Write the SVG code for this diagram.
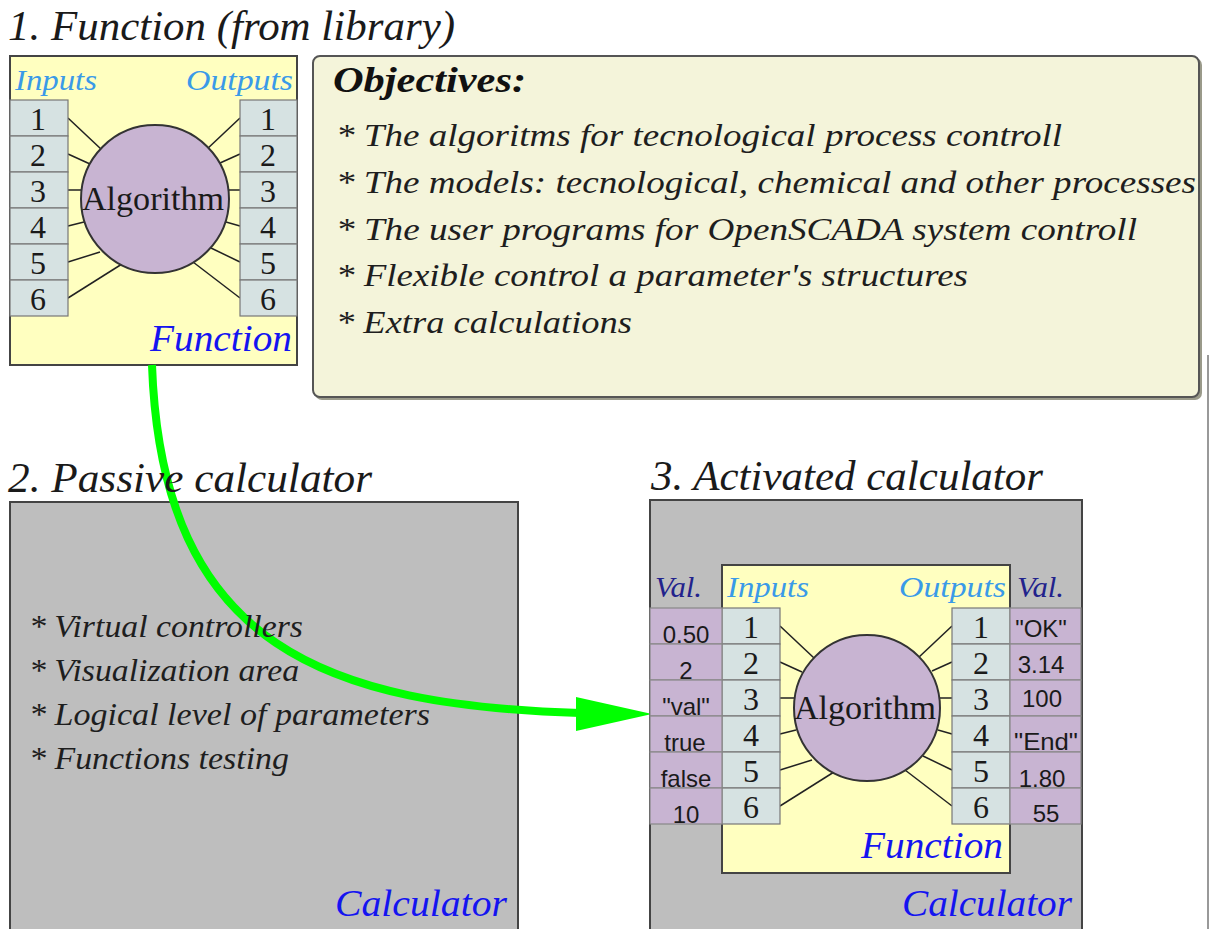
<svg xmlns="http://www.w3.org/2000/svg" width="1210" height="929" viewBox="0 0 1210 929">
<style>
.title{font-family:"Liberation Serif","Times New Roman",serif;font-style:italic;font-size:42px;fill:#1a1a1a}
.fbox{fill:#ffffc0;stroke:#444;stroke-width:2}
.pin{fill:#d6e2e2;stroke:#777;stroke-width:1.2}
.val{fill:#c8b4d2;stroke:#888;stroke-width:1.2}
.alg{fill:#c8b4d2;stroke:#333;stroke-width:2}
.wire{stroke:#222;stroke-width:1.5;fill:none}
.num{font-family:"Liberation Serif","Times New Roman",serif;font-size:32px;fill:#1a1a1a;text-anchor:middle}
.io{font-family:"Liberation Serif","Times New Roman",serif;font-style:italic;font-size:29px;fill:#3a9ae8}
.algt{font-family:"Liberation Serif","Times New Roman",serif;font-size:33px;fill:#1a1a1a;text-anchor:middle}
.blue{font-family:"Liberation Serif","Times New Roman",serif;font-style:italic;font-size:37px;fill:#1414f0;text-anchor:end}
.calc{fill:#bebebe;stroke:#444;stroke-width:2}
.item{font-family:"Liberation Serif","Times New Roman",serif;font-style:italic;font-size:32px;fill:#1e1e1e}
.vt{font-family:"Liberation Sans",Arial,sans-serif;font-size:24px;fill:#1a1a1a;text-anchor:middle}
.vl{font-family:"Liberation Serif","Times New Roman",serif;font-style:italic;font-size:30px;fill:#22228c}
.arrow{fill:none;stroke:#00ff00;stroke-width:8}
</style>

<g id="titles">
<text class="title" x="8" y="40" textLength="447" lengthAdjust="spacingAndGlyphs">1. Function (from library)</text>
<text class="title" x="651" y="490" textLength="392" lengthAdjust="spacingAndGlyphs">3. Activated calculator</text>
</g>

<g id="function-library">
<rect class="fbox" x="10" y="56" width="287" height="309"/>
<line class="wire" x1="68" y1="118" x2="102" y2="150"/>
<line class="wire" x1="68" y1="154" x2="90" y2="164"/>
<line class="wire" x1="68" y1="190" x2="84" y2="190"/>
<line class="wire" x1="68" y1="226" x2="84" y2="222"/>
<line class="wire" x1="68" y1="262" x2="100" y2="252"/>
<line class="wire" x1="68" y1="298" x2="122" y2="264"/>
<line class="wire" x1="240" y1="118" x2="206" y2="150"/>
<line class="wire" x1="240" y1="154" x2="220" y2="163"/>
<line class="wire" x1="240" y1="190" x2="226" y2="190"/>
<line class="wire" x1="240" y1="226" x2="226" y2="222"/>
<line class="wire" x1="240" y1="262" x2="211" y2="248"/>
<line class="wire" x1="240" y1="298" x2="193" y2="262"/>
<circle class="alg" cx="155" cy="199" r="74"/>
<text class="algt" x="153" y="210" textLength="142" lengthAdjust="spacingAndGlyphs">Algorithm</text>
<rect class="pin" x="10" y="100" width="58" height="36"/>
<rect class="pin" x="10" y="136" width="58" height="36"/>
<rect class="pin" x="10" y="172" width="58" height="36"/>
<rect class="pin" x="10" y="208" width="58" height="36"/>
<rect class="pin" x="10" y="244" width="58" height="36"/>
<rect class="pin" x="10" y="280" width="58" height="36"/>
<rect class="pin" x="240" y="100" width="57" height="36"/>
<rect class="pin" x="240" y="136" width="57" height="36"/>
<rect class="pin" x="240" y="172" width="57" height="36"/>
<rect class="pin" x="240" y="208" width="57" height="36"/>
<rect class="pin" x="240" y="244" width="57" height="36"/>
<rect class="pin" x="240" y="280" width="57" height="36"/>
<text class="num" x="38" y="130">1</text>
<text class="num" x="38" y="166">2</text>
<text class="num" x="38" y="202">3</text>
<text class="num" x="38" y="238">4</text>
<text class="num" x="38" y="274">5</text>
<text class="num" x="38" y="310">6</text>
<text class="num" x="268" y="130">1</text>
<text class="num" x="268" y="166">2</text>
<text class="num" x="268" y="202">3</text>
<text class="num" x="268" y="238">4</text>
<text class="num" x="268" y="274">5</text>
<text class="num" x="268" y="310">6</text>
<text class="io" x="15" y="90" textLength="82" lengthAdjust="spacingAndGlyphs">Inputs</text>
<text class="io" x="186" y="90" textLength="107" lengthAdjust="spacingAndGlyphs">Outputs</text>
<text class="blue" x="292" y="351" textLength="142" lengthAdjust="spacingAndGlyphs">Function</text>
</g>

<g id="objectives">
<rect x="315" y="58" width="887" height="342" rx="7" fill="#9a9a8a"/>
<rect x="313" y="56" width="886" height="341" rx="7" fill="#f4f4da" stroke="#555" stroke-width="2"/>
<text x="333" y="92" font-family="Liberation Serif, Times New Roman, serif" font-style="italic" font-weight="bold" font-size="36" fill="#111" textLength="193" lengthAdjust="spacingAndGlyphs">Objectives:</text>
<text class="item" x="336" y="146" textLength="726" lengthAdjust="spacingAndGlyphs">* The algoritms for tecnological process controll</text>
<text class="item" x="336" y="193" textLength="860" lengthAdjust="spacingAndGlyphs">* The models: tecnological, chemical and other processes</text>
<text class="item" x="336" y="240" textLength="801" lengthAdjust="spacingAndGlyphs">* The user programs for OpenSCADA system controll</text>
<text class="item" x="336" y="286" textLength="632" lengthAdjust="spacingAndGlyphs">* Flexible control a parameter's structures</text>
<text class="item" x="336" y="333" textLength="296" lengthAdjust="spacingAndGlyphs">* Extra calculations</text>
</g>

<line id="edge-line" x1="1208" y1="355" x2="1208" y2="929" stroke="#999" stroke-width="2"/>

<g id="passive-calculator">
<rect class="calc" x="10" y="502" width="508" height="440"/>
</g>

<g id="connectors">
<path class="arrow" d="M152,365 C162,650 330,705 580,713"/>
<polygon points="576,697 652,714 576,731" fill="#00ff00"/>
</g>

<g id="passive-calculator-labels">
<text class="title" x="8" y="492" textLength="364" lengthAdjust="spacingAndGlyphs">2. Passive calculator</text>
<text class="item" x="29" y="637" textLength="274" lengthAdjust="spacingAndGlyphs">* Virtual controllers</text>
<text class="item" x="29" y="681" textLength="270" lengthAdjust="spacingAndGlyphs">* Visualization area</text>
<text class="item" x="29" y="725" textLength="401" lengthAdjust="spacingAndGlyphs">* Logical level of parameters</text>
<text class="item" x="29" y="769" textLength="260" lengthAdjust="spacingAndGlyphs">* Functions testing</text>
<text class="blue" x="507" y="916" font-size="38" textLength="172" lengthAdjust="spacingAndGlyphs">Calculator</text>
</g>

<g id="activated-calculator">
<rect class="calc" x="650" y="500" width="432" height="442"/>
<g id="activated-function" transform="translate(712,508)">
<rect class="fbox" x="10" y="57" width="288" height="308"/>
<line class="wire" x1="68" y1="118" x2="102" y2="150"/>
<line class="wire" x1="68" y1="154" x2="90" y2="164"/>
<line class="wire" x1="68" y1="190" x2="84" y2="190"/>
<line class="wire" x1="68" y1="226" x2="84" y2="222"/>
<line class="wire" x1="68" y1="262" x2="100" y2="252"/>
<line class="wire" x1="68" y1="298" x2="122" y2="264"/>
<line class="wire" x1="240" y1="118" x2="206" y2="150"/>
<line class="wire" x1="240" y1="154" x2="220" y2="163"/>
<line class="wire" x1="240" y1="190" x2="226" y2="190"/>
<line class="wire" x1="240" y1="226" x2="226" y2="222"/>
<line class="wire" x1="240" y1="262" x2="211" y2="248"/>
<line class="wire" x1="240" y1="298" x2="193" y2="262"/>
<circle class="alg" cx="155" cy="200" r="73"/>
<text class="algt" x="153" y="211" textLength="142" lengthAdjust="spacingAndGlyphs">Algorithm</text>
<rect class="pin" x="10" y="100" width="58" height="36"/>
<rect class="pin" x="10" y="136" width="58" height="36"/>
<rect class="pin" x="10" y="172" width="58" height="36"/>
<rect class="pin" x="10" y="208" width="58" height="36"/>
<rect class="pin" x="10" y="244" width="58" height="36"/>
<rect class="pin" x="10" y="280" width="58" height="36"/>
<rect class="pin" x="240" y="100" width="58" height="36"/>
<rect class="pin" x="240" y="136" width="58" height="36"/>
<rect class="pin" x="240" y="172" width="58" height="36"/>
<rect class="pin" x="240" y="208" width="58" height="36"/>
<rect class="pin" x="240" y="244" width="58" height="36"/>
<rect class="pin" x="240" y="280" width="58" height="36"/>
<text class="num" x="39" y="130">1</text>
<text class="num" x="39" y="166">2</text>
<text class="num" x="39" y="202">3</text>
<text class="num" x="39" y="238">4</text>
<text class="num" x="39" y="274">5</text>
<text class="num" x="39" y="310">6</text>
<text class="num" x="269" y="130">1</text>
<text class="num" x="269" y="166">2</text>
<text class="num" x="269" y="202">3</text>
<text class="num" x="269" y="238">4</text>
<text class="num" x="269" y="274">5</text>
<text class="num" x="269" y="310">6</text>
<text class="io" x="15" y="89" textLength="82" lengthAdjust="spacingAndGlyphs">Inputs</text>
<text class="io" x="187" y="89" textLength="107" lengthAdjust="spacingAndGlyphs">Outputs</text>
<text class="blue" x="291" y="350" textLength="142" lengthAdjust="spacingAndGlyphs">Function</text>
</g>
<rect class="val" x="650" y="608" width="72" height="36"/>
<rect class="val" x="650" y="644" width="72" height="36"/>
<rect class="val" x="650" y="680" width="72" height="36"/>
<rect class="val" x="650" y="716" width="72" height="36"/>
<rect class="val" x="650" y="752" width="72" height="36"/>
<rect class="val" x="650" y="788" width="72" height="36"/>
<rect class="val" x="1010" y="608" width="71" height="36"/>
<rect class="val" x="1010" y="644" width="71" height="36"/>
<rect class="val" x="1010" y="680" width="71" height="36"/>
<rect class="val" x="1010" y="716" width="71" height="36"/>
<rect class="val" x="1010" y="752" width="71" height="36"/>
<rect class="val" x="1010" y="788" width="71" height="36"/>
<text class="vt" x="686" y="643">0.50</text>
<text class="vt" x="686" y="679">2</text>
<text class="vt" x="686" y="715">"val"</text>
<text class="vt" x="685" y="751">true</text>
<text class="vt" x="686" y="787">false</text>
<text class="vt" x="686" y="823">10</text>
<text class="vt" x="1041" y="637">"OK"</text>
<text class="vt" x="1041" y="673">3.14</text>
<text class="vt" x="1042" y="707">100</text>
<text class="vt" x="1046" y="750" textLength="64" lengthAdjust="spacingAndGlyphs">"End"</text>
<text class="vt" x="1042" y="787">1.80</text>
<text class="vt" x="1046" y="822">55</text>
<text class="vl" x="655" y="597" textLength="47" lengthAdjust="spacingAndGlyphs">Val.</text>
<text class="vl" x="1017" y="597" textLength="47" lengthAdjust="spacingAndGlyphs">Val.</text>
<text class="blue" x="1072" y="916" font-size="38" textLength="170" lengthAdjust="spacingAndGlyphs">Calculator</text>
</g>
</svg>
